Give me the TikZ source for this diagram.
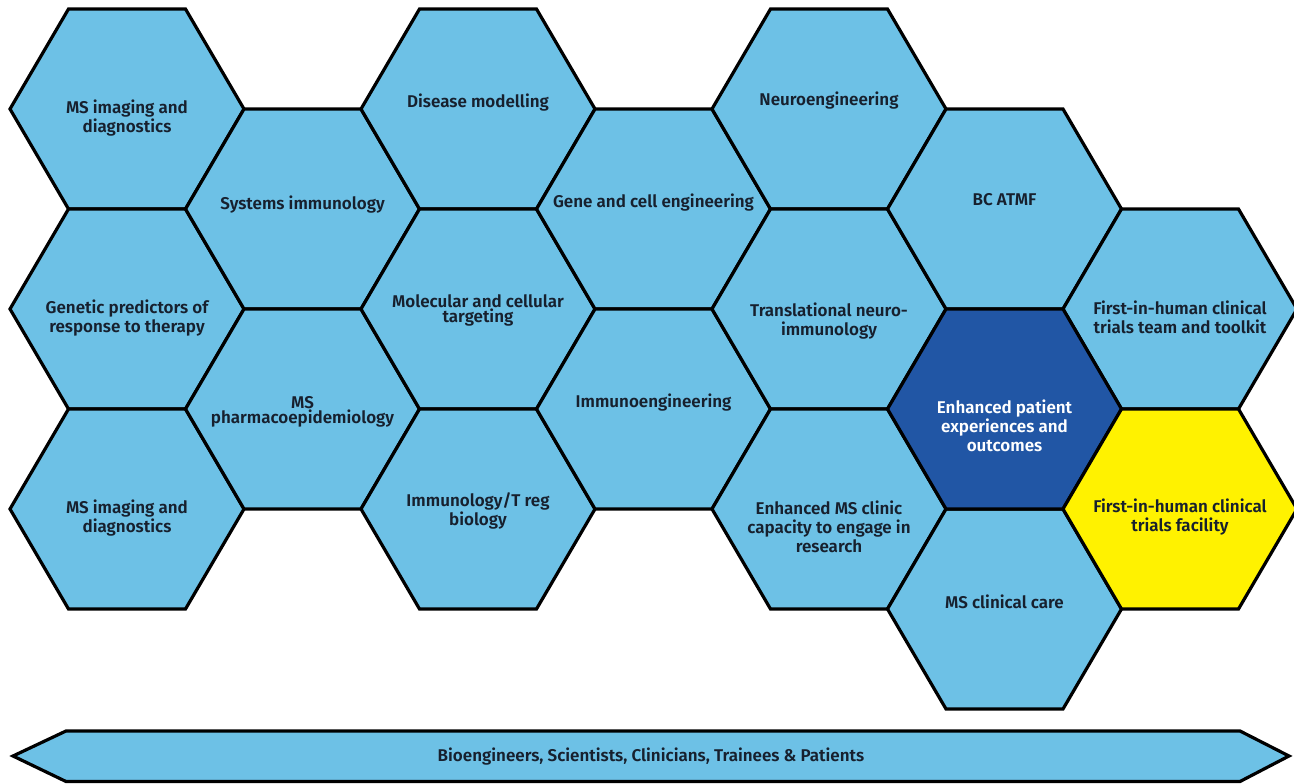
\documentclass[tikz,border=0pt]{standalone}
\usepackage{fontspec}
\setmainfont{Fira Sans}[BoldFont={Fira Sans SemiBold}]
\usetikzlibrary{calc}
\definecolor{hexblue}{HTML}{6DC1E6}
\definecolor{hexdark}{HTML}{2156A5}
\definecolor{hexyellow}{HTML}{FFF200}
\definecolor{txtdark}{HTML}{17202E}
\newcommand\hexat[2]{\filldraw[hexline,fill=#2,shift={(#1)}] (117,0) -- (58.5,100) -- (-58.5,100) -- (-117,0) -- (-58.5,-100) -- (58.5,-100) -- cycle;}
\begin{document}
\begin{tikzpicture}[x=1pt,y=-1pt,
  hexline/.style={draw=black, line width=3.2pt, line join=miter},
  lbl/.style={font=\bfseries\fontsize{17}{19}\selectfont, text=txtdark, align=center, inner sep=0pt},
  tight/.style={font=\bfseries\fontsize{17}{15}\selectfont}]
\useasboundingbox (0,0) rectangle (1294,784);
% hexagon centres
\coordinate (c11) at (127,109);
\coordinate (c12) at (127,309);
\coordinate (c13) at (127,509);
\coordinate (c21) at (302.5,209);
\coordinate (c22) at (302.5,409);
\coordinate (c31) at (478,109);
\coordinate (c32) at (478,309);
\coordinate (c33) at (478,509);
\coordinate (c41) at (653.5,209);
\coordinate (c42) at (653.5,409);
\coordinate (c51) at (829,109);
\coordinate (c52) at (829,309);
\coordinate (c53) at (829,509);
\coordinate (c61) at (1004.5,209);
\coordinate (c62) at (1004.5,409);
\coordinate (c63) at (1004.5,609);
\coordinate (c71) at (1180,309);
\coordinate (c72) at (1180,509);
\foreach \c in {c11,c12,c13,c21,c22,c31,c32,c33,c41,c42,c51,c52,c53,c61,c63,c71}{\hexat{\c}{hexblue}}
\hexat{c62}{hexdark}
\hexat{c72}{hexyellow}
% labels
\node[lbl] (t11) at ($(c11)+(0,9)$) {MS imaging and\\diagnostics};
\node[lbl] (t12) at ($(c12)+(0,9)$) {Genetic predictors of\\response to therapy};
\node[lbl] (t13) at ($(c13)+(0,9)$) {MS imaging and\\diagnostics};
\node[lbl] (t21) at ($(c21)+(0,-4)$) {Systems immunology};
\node[lbl,tight] (t22) at ($(c22)+(0,3)$) {MS\\pharmacoepidemiology};
\node[lbl] (t31) at ($(c31)+(0,-6)$) {Disease modelling};
\node[lbl,tight] (t32) at ($(c32)+(0,1)$) {Molecular and cellular\\targeting};
\node[lbl,tight] (t33) at ($(c33)+(0,2)$) {Immunology/T reg\\biology};
\node[lbl] (t41) at ($(c41)+(0,-6)$) {Gene and cell engineering};
\node[lbl] (t42) at ($(c42)+(0,-6)$) {Immunoengineering};
\node[lbl] (t51) at ($(c51)+(0,-8)$) {Neuroengineering};
\node[lbl] (t52) at ($(c52)+(0,12)$) {Translational neuro-\\immunology};
\node[lbl] (t53) at ($(c53)+(0,18)$) {Enhanced MS clinic\\capacity to engage in\\research};
\node[lbl] (t61) at ($(c61)+(0,-9)$) {BC ATMF};
\node[lbl,text=white] (t62) at ($(c62)+(0,17)$) {Enhanced patient\\experiences and\\outcomes};
\node[lbl] (t63) at ($(c63)+(0,-7)$) {MS clinical care};
\node[lbl] (t71) at ($(c71)+(0,8)$) {First-in-human clinical\\trials team and toolkit};
\node[lbl] (t72) at ($(c72)+(0,8)$) {First-in-human clinical\\trials facility};
% banner
\filldraw[hexline, fill=hexblue] (13,756) -- (66,731) -- (1240,731) -- (1289,756) -- (1240,781.5) -- (66,781.5) -- cycle;
\node[lbl] (banner) at (651,757) {Bioengineers, Scientists, Clinicians, Trainees \& Patients};
\end{tikzpicture}
\end{document}
